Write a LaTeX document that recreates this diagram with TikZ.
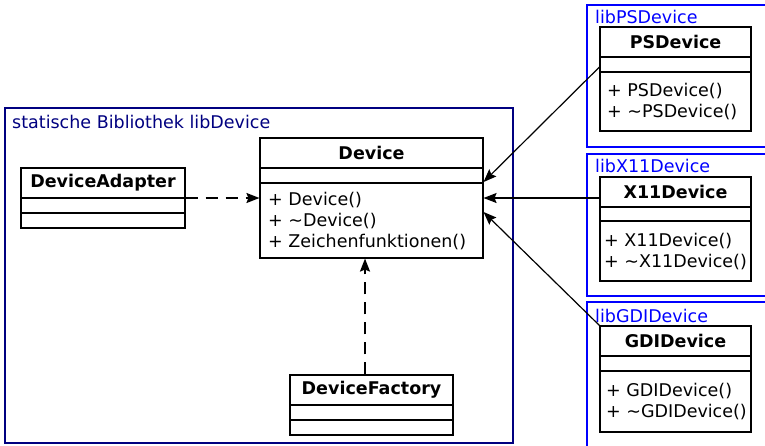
\documentclass[tikz,border=0pt]{standalone}
\usepackage{fontspec}
\setmainfont{DejaVu Sans}
\usetikzlibrary{arrows.meta,fit}

\definecolor{libnavy}{RGB}{0,0,128}
\definecolor{libblue}{RGB}{0,0,255}

\tikzset{
  classframe/.style={draw=black, line width=1.1pt, inner sep=0pt},
  classrule/.style={draw=black, line width=1.1pt},
  classtitle/.style={font=\bfseries\fontsize{17.5}{21}\selectfont, inner sep=0pt},
  classops/.style={font=\fontsize{17.5}{21}\selectfont, inner sep=0pt, align=left},
  staticlib/.style={draw=libnavy, line width=2pt, inner sep=0pt},
  sharedlib/.style={draw=libblue, line width=2.5pt, inner sep=0pt},
  libtitle/.style={font=\fontsize{17.5}{21}\selectfont, inner sep=0pt, anchor=west},
  realize/.style={draw=black, line width=1.2pt, -{Stealth[length=13pt,width=10pt,inset=2pt]}},
  depend/.style={draw=black, line width=1.8pt, dash pattern=on 12pt off 8pt, -{Stealth[length=13pt,width=10pt,inset=2pt]}},
}

\newcommand\opsindent{7}
% #1 name, #2 left, #3 top, #4 right, #5 bottom, #6 first rule, #7 second rule, #8 class name, #9 operations
\newcommand\umlclass[9]{%
  \node[classframe, fit={(#2,#3) (#4,#5)}] (#1) {};
  \draw[classrule] (#2,#6) -- (#4,#6);
  \draw[classrule] (#2,#7) -- (#4,#7);
  \node[classtitle] (#1-name) at ({(#2+#4)/2},{(#3+#6)/2}) {#8};
  \node[classops, anchor=west] (#1-ops) at ({#2+\opsindent},{(#7+#5)/2}) {#9};
}

\begin{document}
\begin{tikzpicture}[x=1pt, y=-1pt]
  \useasboundingbox (0,0) rectangle (765,445);
  \fill[white] (0,0) rectangle (765,445);
  \clip (0,0) rectangle (765,445);

  % static library frame
  \node[staticlib, fit={(5,108) (513,443)}] (static) {};
  \node[libtitle, text=libnavy] (static-title) at (12,122) {statische Bibliothek libDevice};

  % shared library frames
  \node[sharedlib, fit={(587,5) (780,147)}] (pslib) {};
  \node[libtitle, text=libblue] (pslib-title) at (595,17) {libPSDevice};
  \node[sharedlib, fit={(587,154) (780,296)}] (x11lib) {};
  \node[libtitle, text=libblue] (x11lib-title) at (595,166) {libX11Device};
  \node[sharedlib, fit={(587,302) (780,460)}] (gdilib) {};
  \node[libtitle, text=libblue] (gdilib-title) at (595,316) {libGDIDevice};

  % classes
  \renewcommand\opsindent{8}
  \umlclass{dev}{260}{138}{483}{258}{168}{183}{Device}
    {+ Device()\\+ \textasciitilde Device()\\+ Zeichenfunktionen()}
  \umlclass{adapter}{21}{168}{185}{228}{198}{213}{DeviceAdapter}{}
  \umlclass{fac}{290}{375}{453}{435}{405}{420}{DeviceFactory}{}
  \renewcommand\opsindent{7}
  \umlclass{ps}{600}{27}{751}{131}{57}{72}{PSDevice}
    {+ PSDevice()\\+ \textasciitilde PSDevice()}
  \renewcommand\opsindent{4}
  \umlclass{x11}{600}{177}{751}{281}{207}{221}{X11Device}
    {+ X11Device()\\+ \textasciitilde X11Device()}
  \renewcommand\opsindent{6}
  \umlclass{gdi}{600}{326}{751}{432}{356}{371}{GDIDevice}
    {+ GDIDevice()\\+ \textasciitilde GDIDevice()}

  % connectors
  \draw[depend] (adapter.east) -- (dev.west);
  \draw[depend] ([xshift=-6.5pt]fac.north) -- ([xshift=-6.5pt]dev.south);
  \draw[realize] ([yshift=12pt]ps.west) -- ([yshift=16pt]dev.east);
  \draw[realize] ([yshift=31pt]x11.west) -- (dev.east);
  \draw[realize] (gdi.north west) -- ([yshift=-14pt]dev.east);
\end{tikzpicture}
\end{document}
